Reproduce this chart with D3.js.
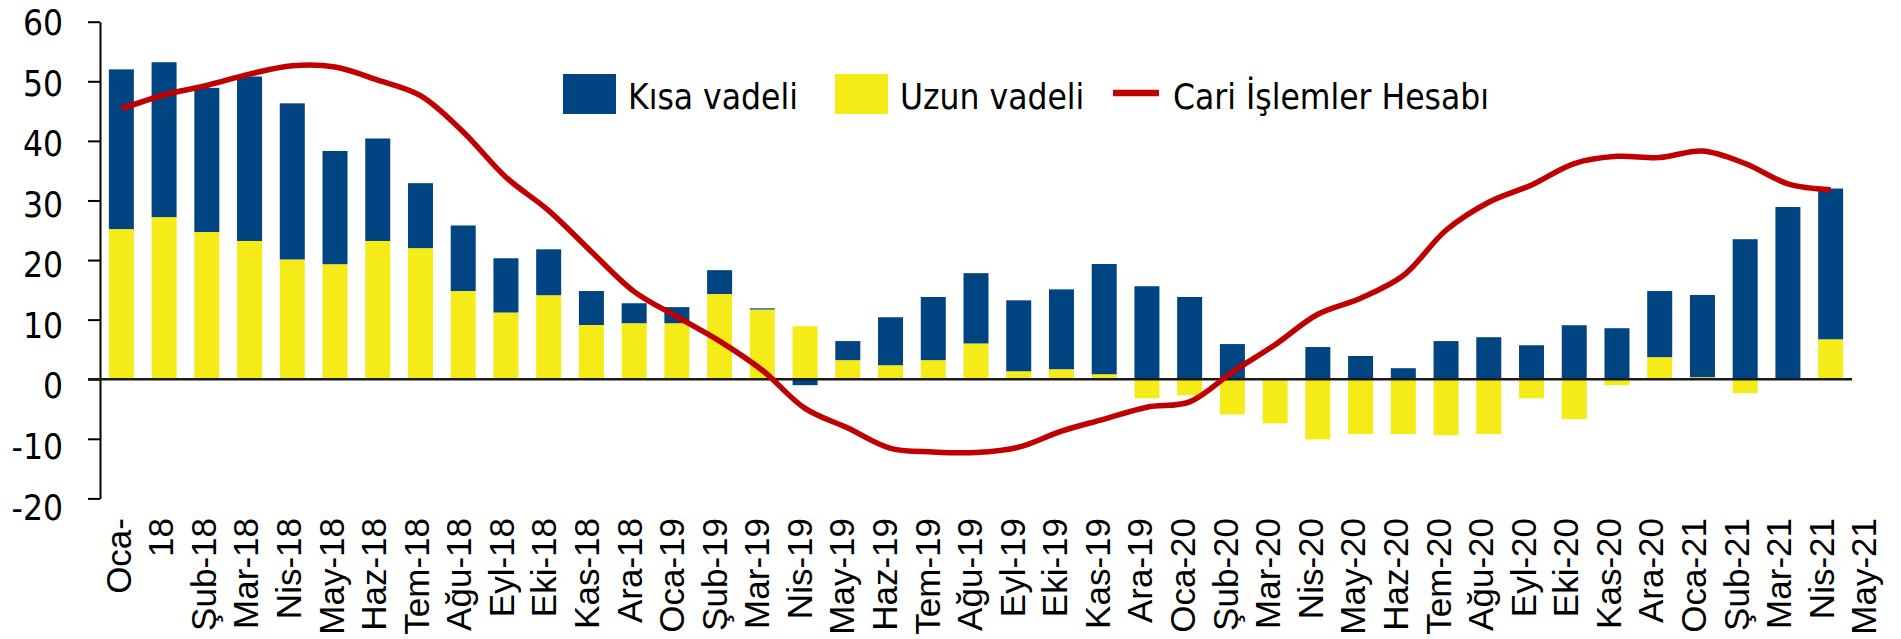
<!DOCTYPE html>
<html>
<head>
<meta charset="utf-8">
<script src="https://cdn.jsdelivr.net/npm/d3@7"></script>
<style>
  body { margin: 0; background: #fff; }
  svg { display: block; font-family: "DejaVu Sans Condensed", "DejaVu Sans", sans-serif; font-stretch: condensed; }
</style>
</head>
<body>
<svg id="chart"></svg>
<script>
const months = [
  'Oca-18', 'Şub-18', 'Mar-18', 'Nis-18', 'May-18', 'Haz-18', 'Tem-18', 'Ağu-18', 'Eyl-18', 'Eki-18', 'Kas-18', 'Ara-18',
  'Oca-19', 'Şub-19', 'Mar-19', 'Nis-19', 'May-19', 'Haz-19', 'Tem-19', 'Ağu-19', 'Eyl-19', 'Eki-19', 'Kas-19', 'Ara-19',
  'Oca-20', 'Şub-20', 'Mar-20', 'Nis-20', 'May-20', 'Haz-20', 'Tem-20', 'Ağu-20', 'Eyl-20', 'Eki-20', 'Kas-20', 'Ara-20',
  'Oca-21', 'Şub-21', 'Mar-21', 'Nis-21', 'May-21',
];

// the first label wraps in the original, which pushes every label one slot right
const tickLabels = ['Oca-', '18', ...months.slice(1)];

const kisaVadeli = [
  26.8, 26.0, 24.2, 27.6, 26.2, 19.0, 17.2, 10.9, 11.0, 9.1, 7.7, 5.7,
  3.35, 2.7, 4.0, 0.2, -1.0, 3.2, 8.05, 10.6, 11.8, 11.9, 13.4, 18.5,
  15.6, 13.8, 5.9, 0.0, 5.4, 3.9, 1.85, 6.4, 7.05, 5.7, 9.06, 8.56,
  11.1, 13.8, 23.5, 28.9, 25.3,
];

const uzunVadeli = [
  25.2, 27.2, 24.7, 23.2, 20.1, 19.3, 23.2, 22.0, 14.8, 11.2, 14.1, 9.1,
  9.4, 9.4, 14.3, 11.7, 8.9, 3.2, 2.35, 3.2, 6.0, 1.34, 1.68, 0.84,
  -3.2, -2.7, -5.9, -7.4, -10.1, -9.2, -9.2, -9.4, -9.2, -3.2, -6.7, -1.0,
  3.7, 0.34, -2.35, 0.0, 6.7,
];

const cariIslemler = [
  45.4, 47.7, 49.3, 51.2, 52.6, 52.4, 50.2, 47.6, 41.5, 33.9, 28.3, 21.4,
  14.7, 10.5, 6.4, 1.5, -4.9, -8.2, -11.6, -12.2, -12.3, -11.4, -8.7, -6.7,
  -4.7, -3.8, 1.2, 5.8, 10.9, 13.6, 17.4, 25.0, 29.7, 32.6, 36.2, 37.4,
  37.2, 38.3, 36.2, 32.8, 31.8,
];

const yTicks = [-20, -10, 0, 10, 20, 30, 40, 50, 60];
const seriesNames = ['Kısa vadeli', 'Uzun vadeli', 'Cari İşlemler Hesabı'];

const width = 1901;
const height = 639;
const plot = { left: 100, right: 1852, top: 21.7, bottom: 498.4 };
const colors = { kisa: '#004581', uzun: '#f5eb19', cari: '#c00000' };
const fontSize = 35;

const rows = months.map((m, i) => ({ month: m, uzun: uzunVadeli[i], kisa: kisaVadeli[i] }));

const svg = d3.select('#chart')
  .attr('width', width)
  .attr('height', height);

svg.append('rect')
  .attr('width', width)
  .attr('height', height)
  .attr('fill', '#fff');

const x = d3.scaleBand()
  .domain(months)
  .range([plot.left, plot.right])
  .paddingInner(0.415)
  .paddingOuter(0.2075);

const y = d3.scaleLinear()
  .domain([-20, 60])
  .range([plot.bottom, plot.top]);

// labels in the original sit on a slightly wider pitch than the gridlines
const yLabel = d3.scaleLinear()
  .domain([-20, 60])
  .range([507, 22.5]);

const xLabel = d3.scalePoint()
  .domain(tickLabels)
  .range([117.5, 1863]);

// stacked bars, positives up from zero and negatives down
const stack = d3.stack()
  .keys(['uzun', 'kisa'])
  .offset(d3.stackOffsetDiverging);

const layers = svg.append('g')
  .selectAll('g')
  .data(stack(rows))
  .join('g')
  .attr('fill', d => colors[d.key]);

layers.selectAll('rect')
  .data(d => d)
  .join('rect')
  .attr('x', d => x(d.data.month))
  .attr('width', x.bandwidth())
  .attr('y', d => y(Math.max(d[0], d[1])))
  .attr('height', d => Math.abs(y(d[0]) - y(d[1])));

// y axis: line and ticks
const yAxis = d3.axisLeft(y)
  .tickValues(yTicks)
  .tickSize(12)
  .tickSizeOuter(0)
  .tickFormat('');

svg.append('g')
  .attr('transform', `translate(${plot.left},0)`)
  .call(yAxis)
  .call(g => g.select('.domain').attr('stroke', '#000').attr('stroke-width', 2))
  .call(g => g.selectAll('.tick line').attr('stroke', '#000').attr('stroke-width', 2));

svg.append('g')
  .selectAll('text')
  .data(yTicks)
  .join('text')
  .attr('x', 63)
  .attr('y', d => yLabel(d))
  .attr('dy', '0.36em')
  .attr('text-anchor', 'end')
  .attr('font-size', fontSize)
  .attr('fill', '#000')
  .text(d => d);

// zero line
svg.append('line')
  .attr('x1', plot.left - 12)
  .attr('x2', plot.right)
  .attr('y1', y(0))
  .attr('y2', y(0))
  .attr('stroke', '#1a1a1a')
  .attr('stroke-width', 2.5);

// current account line
const line = d3.line()
  .x((d, i) => x(months[i]) + x.bandwidth() / 2)
  .y(d => y(d))
  .curve(d3.curveCatmullRom.alpha(0.5));

svg.append('path')
  .datum(cariIslemler)
  .attr('fill', 'none')
  .attr('stroke', colors.cari)
  .attr('stroke-width', 5.5)
  .attr('d', line);

// x axis labels, rotated
const xAxis = d3.axisBottom(xLabel).tickSize(0);

svg.append('g')
  .attr('transform', 'translate(0,518)')
  .call(xAxis)
  .call(g => g.select('.domain').remove())
  .call(g => g.selectAll('text')
    .attr('x', 0)
    .attr('y', 0)
    .attr('dy', null)
    .attr('transform', `translate(${fontSize * 0.364},0) rotate(-90)`)
    .attr('text-anchor', 'end')
    .attr('font-size', fontSize)
    .attr('font-family', null)
    .attr('fill', '#000'));

// legend
const legend = svg.append('g');
const legendItems = [
  { name: seriesNames[0], type: 'rect', color: colors.kisa, x: 563, tx: 628 },
  { name: seriesNames[1], type: 'rect', color: colors.uzun, x: 835, tx: 900 },
  { name: seriesNames[2], type: 'line', color: colors.cari, x: 1113, tx: 1173 },
];

legendItems.forEach(item => {
  if (item.type === 'rect') {
    legend.append('rect')
      .attr('x', item.x)
      .attr('y', 74)
      .attr('width', 53)
      .attr('height', 40)
      .attr('fill', item.color);
  } else {
    legend.append('line')
      .attr('x1', item.x)
      .attr('x2', item.x + 46)
      .attr('y1', 93)
      .attr('y2', 93)
      .attr('stroke', item.color)
      .attr('stroke-width', 6.5);
  }
  legend.append('text')
    .attr('x', item.tx)
    .attr('y', 109.3)
    .attr('font-size', fontSize)
    .attr('fill', '#000')
    .text(item.name);
});
</script>
</body>
</html>
